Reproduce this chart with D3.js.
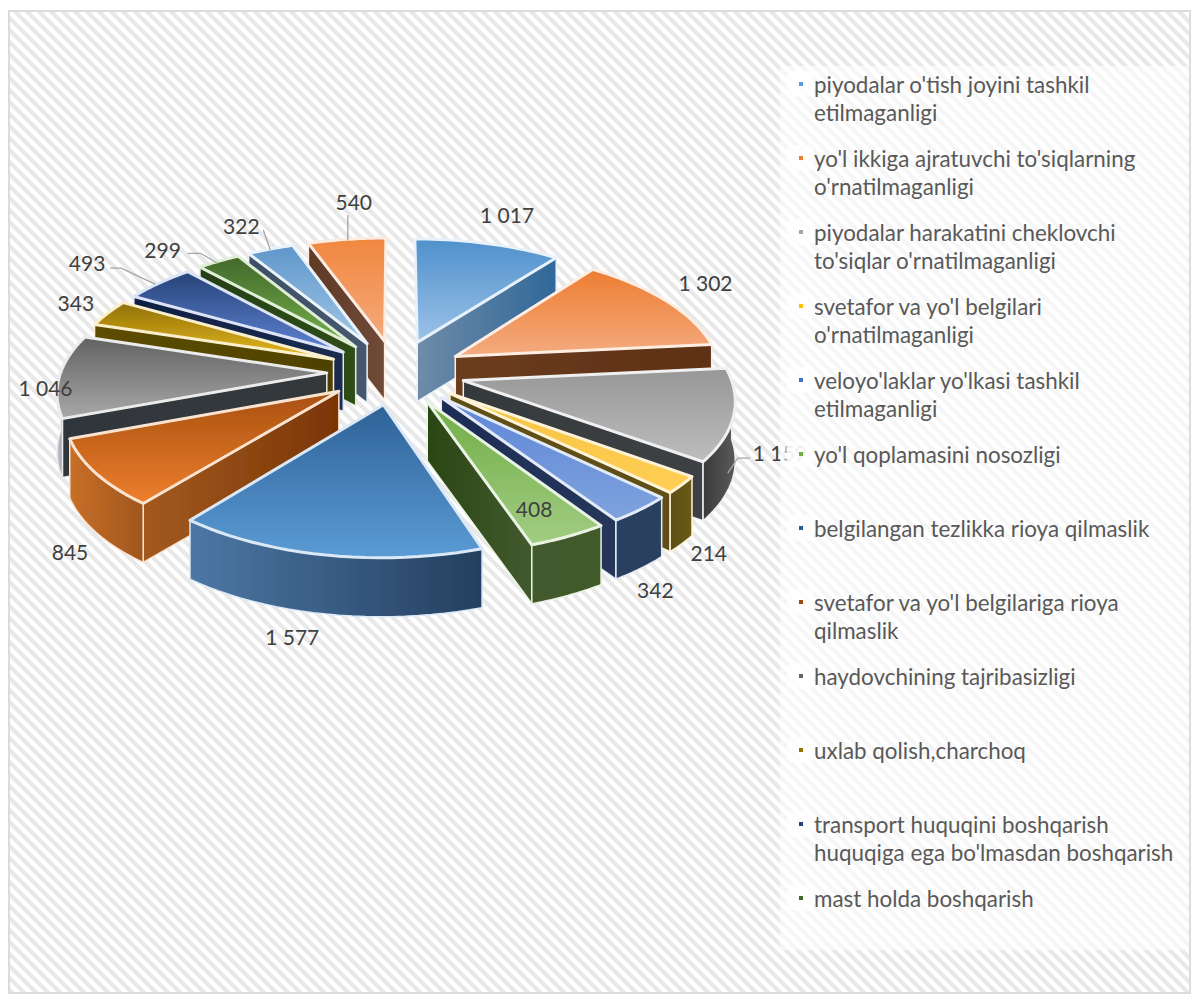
<!DOCTYPE html>
<html>
<head>
<meta charset="utf-8">
<script src="https://d3js.org/d3.v7.min.js"></script>
<style>
  html, body { margin: 0; padding: 0; background: #fff; }
  svg { display: block; }
  text { font-family: Lato, "Noto Sans", sans-serif; fill: #404040; }
</style>
</head>
<body>
<div id="chart"></div>
<script>
// values in clockwise order, the label of the third one is cut off by the legend
const values = [1017, 1302, 1159, 214, 342, 408, 1577, 845, 1046, 343, 493, 299, 322, 540];
const valueLabels = ["1 017", "1 302", "1 159", "214", "342", "408", "1 577", "845", "1 046", "343", "493", "299", "322", "540"];
const legendLabels = [
  ["piyodalar o'tish joyini tashkil", "etilmaganligi"],
  ["yo'l ikkiga ajratuvchi to'siqlarning", "o'rnatilmaganligi"],
  ["piyodalar harakatini cheklovchi", "to'siqlar o'rnatilmaganligi"],
  ["svetafor va yo'l belgilari", "o'rnatilmaganligi"],
  ["veloyo'laklar yo'lkasi tashkil", "etilmaganligi"],
  ["yo'l qoplamasini nosozligi"],
  ["belgilangan tezlikka rioya qilmaslik"],
  ["svetafor va yo'l belgilariga rioya", "qilmaslik"],
  ["haydovchining tajribasizligi"],
  ["uxlab qolish,charchoq"],
  ["transport huquqini boshqarish", "huquqiga ega bo'lmasdan boshqarish"],
  ["mast holda boshqarish"]
];

// top face gradient (back, front), side wall gradient (left, right), rim wall gradient (left, right)
const topColors = [
  ["#4f90cc", "#9cc3e8"], ["#ed7d31", "#f4ab80"], ["#979797", "#bdbdbd"], ["#f5c242", "#ffcf55"],
  ["#5f85d8", "#7ea3dd"], ["#70ad47", "#a2cd82"], ["#2d6297", "#5b9bd5"], ["#a8500f", "#ee7f2d"],
  ["#626262", "#a8a8a8"], ["#8f7109", "#e9b91c"], ["#264478", "#5f82d4"], ["#43682b", "#74b14a"],
  ["#5f96cb", "#a2c7e6"], ["#f0873f", "#f5aa7c"]
];
const sideColors = [
  ["#6f8ba8", "#2f6899"], ["#6b3d1f", "#5e3015"], ["#34393d", "#3e4144"], ["#5e4f12", "#5e4f12"],
  ["#1d2c55", "#26365a"], ["#2b4615", "#425a2e"], ["#3d6d9e", "#1f4e79"], ["#a35a20", "#7a3505"],
  ["#2f363a", "#34383b"], ["#5c4d00", "#4f4200"], ["#0e1f42", "#1c2c50"], ["#254012", "#2f4d18"],
  ["#3c4f68", "#46586e"], ["#5f3a26", "#6f4a38"]
];
const rimColors = [
  ["#6f8ba8", "#2f6899"], ["#6b3d1f", "#5e3015"], ["#3a3a3a", "#5a5a5a"], ["#5e4f12", "#6a5a18"],
  ["#2b3f60", "#2b3f60"], ["#425a2e", "#3f5a2a"], ["#4c77a4", "#24405f"], ["#c86f28", "#a0561e"],
  ["#c8ccd2", "#9aa0a8"], ["#5c4d00", "#5c4d00"], ["#0e1f42", "#0e1f42"], ["#254012", "#254012"],
  ["#3c4f68", "#3c4f68"], ["#5f3a26", "#5f3a26"]
];
const legendColors = ["#5b9bd5", "#ed7d31", "#a5a5a5", "#ffc000", "#4472c4", "#70ad47", "#255e91", "#9e480e", "#636363", "#997300", "#264478", "#43682b"];

// Layout
const width = 1193, height = 996;
const cx = 396, cy = 372;
const explode = 0.26, focal = 266, persp = 0.129, tilt = 0.466, depth = 59;
// label nudges from the rim point of each slice, and leader bends from the same point
const labelNudge = [[19,-29],[39,-19],[46,37],[27,68],[15,80],[-34,-28],[-34,81],[-26,78],[-14,11],[-32,-11],[-72,-21],[-56,-12],[-29,-24],[7,-38]];
const leaders = {
  2: [[-6,58],[4,43],[16,43]],
  10: [[-4,1],[-38,-15],[-49,-15]],
  11: [[-1,2],[-18,-8],[-31,-8]],
  12: [[0,1],[-7,-19]],
  13: [[1,1],[1,-24]]
};

// Map a point on the pie plane to the screen, bigger towards the viewer
function project(u, v, h = 0) {
  const s = focal / (1 + persp * v);
  return [cx + u * s, cy - v * tilt * s + h];
}

function slicePoint(d, angle, r, h = 0) {
  const m = (d.startAngle + d.endAngle) / 2;
  return project(explode * Math.sin(m) + r * Math.sin(angle), explode * Math.cos(m) + r * Math.cos(angle), h);
}

const svg = d3.select("#chart").append("svg").attr("width", width).attr("height", height);
const defs = svg.append("defs");

// Soft edges like the scanned original
defs.append("filter").attr("id", "soft").append("feGaussianBlur").attr("stdDeviation", 0.6);

// Hatched chart background
const hatch = defs.append("pattern").attr("id", "hatch")
  .attr("patternUnits", "userSpaceOnUse").attr("width", 12).attr("height", 12);
hatch.append("rect").attr("width", 12).attr("height", 12).attr("fill", "#fff");
hatch.append("path").attr("d", "M0,0 L6,0 L12,6 L12,12 Z M0,6 L6,12 L0,12 Z")
  .attr("fill", "#e9e9e9").attr("shape-rendering", "crispEdges");

svg.append("rect").attr("x", 9).attr("y", 11).attr("width", 1181).attr("height", 982)
  .attr("fill", "url(#hatch)").attr("stroke", "#dcdcdc").attr("stroke-width", 2);

function gradient(id, colors, vertical) {
  const g = defs.append("linearGradient").attr("id", id)
    .attr("x1", 0).attr("y1", 0).attr("x2", vertical ? 0 : 1).attr("y2", vertical ? 1 : 0);
  g.append("stop").attr("offset", "0%").attr("stop-color", colors[0]);
  g.append("stop").attr("offset", "100%").attr("stop-color", colors[1]);
  return `url(#${id})`;
}

const pie = d3.pie().sort(null).value(d => d);
const arcs = pie(values).map((d, i) => ({ ...d, i, mid: (d.startAngle + d.endAngle) / 2 }));
const outline = d3.line();

// Painter order, from the back of the pie to the front
const pieLayer = svg.append("g").attr("filter", "url(#soft)");
const order = arcs.slice().sort((a, b) => Math.cos(b.mid) - Math.cos(a.mid));

order.forEach(d => {
  const g = pieLayer.append("g");
  const apex = slicePoint(d, 0, 0);
  const a = slicePoint(d, d.startAngle, 1);
  const b = slicePoint(d, d.endAngle, 1);
  const edgeColor = d3.interpolateRgb(topColors[d.i][1], "#fff")(0.78);

  // A straight wall shows when the slice lies above its edge
  [[a, b, "a"], [b, a, "b"]].forEach(([corner, other, key]) => {
    const dx = corner[0] - apex[0], dy = corner[1] - apex[1];
    if (Math.abs(dx) < 10) return;
    const lineY = apex[1] + dy / dx * (other[0] - apex[0]);
    if (other[1] > lineY) return;
    g.append("path")
      .attr("d", outline([apex, corner, [corner[0], corner[1] + depth], [apex[0], apex[1] + depth]]) + "Z")
      .attr("fill", gradient(`side${d.i}${key}`, sideColors[d.i], false))
      .attr("stroke", edgeColor).attr("stroke-width", 1.5).attr("stroke-linejoin", "round");
  });

  // Rim wall, only the part facing the viewer
  const from = Math.max(d.startAngle, Math.PI * 0.5), to = Math.min(d.endAngle, Math.PI * 1.5);
  if (to > from) {
    const steps = d3.range(0, 25).map(k => from + (to - from) * k / 24);
    const rim = steps.map(t => slicePoint(d, t, 1)).concat(steps.slice().reverse().map(t => slicePoint(d, t, 1, depth)));
    g.append("path").attr("d", outline(rim) + "Z")
      .attr("fill", gradient(`rim${d.i}`, rimColors[d.i], false))
      .attr("stroke", edgeColor).attr("stroke-width", 1.5).attr("stroke-linejoin", "round");
  }

  // Top face
  const arcSteps = d3.range(0, 25).map(k => d.startAngle + (d.endAngle - d.startAngle) * k / 24);
  g.append("path")
    .attr("d", outline([apex].concat(arcSteps.map(t => slicePoint(d, t, 1)))) + "Z")
    .attr("fill", gradient(`top${d.i}`, topColors[d.i], true))
    .attr("stroke", edgeColor).attr("stroke-width", 3).attr("stroke-linejoin", "round");
});

// Leaders and data labels
const rimAnchor = d => slicePoint(d, d.mid, 1);
Object.keys(leaders).forEach(key => {
  const p = rimAnchor(arcs[+key]);
  svg.append("path")
    .attr("d", outline(leaders[key].map(o => [p[0] + o[0], p[1] + o[1]])))
    .attr("fill", "none").attr("stroke", "#a6a6a6").attr("stroke-width", 1.3);
});

svg.append("g").selectAll("text").data(arcs).join("text")
  .attr("x", d => rimAnchor(d)[0] + labelNudge[d.i][0])
  .attr("y", d => rimAnchor(d)[1] + labelNudge[d.i][1])
  .attr("text-anchor", "middle").attr("dominant-baseline", "central")
  .attr("font-size", 21)
  .text(d => valueLabels[d.i]);

// Legend, its pale box hides the end of the 1 159 label
const legendX = 780, legendTop = 66, rowStep = 74, lineStep = 28;
svg.append("rect").attr("x", legendX).attr("y", legendTop).attr("width", 409).attr("height", 884)
  .attr("fill", "#fff").attr("fill-opacity", 0.6);

const row = d3.scaleLinear().domain([0, 1]).range([84, 84 + rowStep]);
const rows = svg.append("g").selectAll("g").data(legendLabels).join("g")
  .attr("transform", (d, i) => `translate(0,${row(i)})`);
rows.append("rect").attr("x", 787).attr("y", -13).attr("width", 27).attr("height", 26)
  .attr("rx", 6).attr("fill", "#fff").attr("fill-opacity", 0.8);
rows.append("rect").attr("x", 799).attr("y", -2).attr("width", 4).attr("height", 4)
  .attr("fill", (d, i) => legendColors[i]);
rows.selectAll("text").data(d => d).join("text")
  .attr("x", 814).attr("y", (d, i) => i * lineStep)
  .attr("dominant-baseline", "central")
  .attr("font-size", 22.4).style("fill", "#595959")
  .text(d => d);
</script>
</body>
</html>
